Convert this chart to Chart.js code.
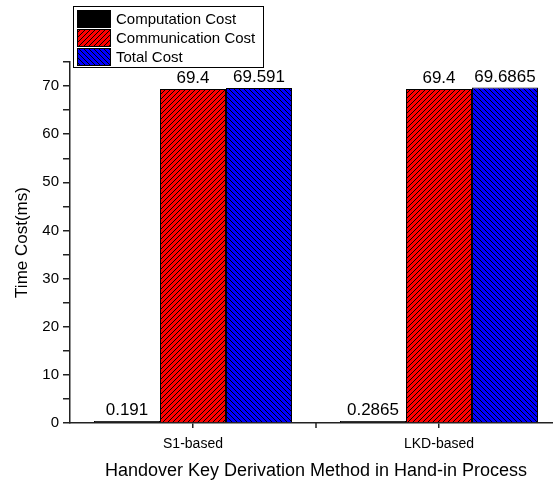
<!DOCTYPE html>
<html>
<head>
<meta charset="utf-8">
<script src="https://cdn.jsdelivr.net/npm/chart.js@4.4.1/dist/chart.umd.min.js"></script>
<style>
html, body { margin: 0; padding: 0; overflow: hidden; background: #fff; }
#wrap { width: 570px; height: 484px; }
</style>
</head>
<body>
<div id="wrap"><canvas id="costChart"></canvas></div>
<script>
const methods = ['S1-based', 'LKD-based'];
const computationCost = [0.191, 0.2865];
const communicationCost = [69.4, 69.4];
const totalCost = [69.591, 69.6865];
const seriesNames = ['Computation Cost', 'Communication Cost', 'Total Cost'];
const yMax = 75;

// motif hachuré
function hatch(bg, dir) {
    const s = 5;
    const c = document.createElement('canvas');
    c.width = s; c.height = s;
    const g = c.getContext('2d');
    g.fillStyle = bg;
    g.fillRect(0, 0, s, s);
    g.strokeStyle = '#000';
    g.lineWidth = 1;
    g.beginPath();
    if (dir === '/') {
        g.moveTo(-1, s + 1); g.lineTo(s + 1, -1);
        g.moveTo(-1, 1); g.lineTo(1, -1);
        g.moveTo(s - 1, s + 1); g.lineTo(s + 1, s - 1);
    } else {
        g.moveTo(-1, -1); g.lineTo(s + 1, s + 1);
        g.moveTo(s - 1, -1); g.lineTo(s + 1, 1);
        g.moveTo(-1, s - 1); g.lineTo(1, s + 1);
    }
    g.stroke();
    return g.createPattern(c, 'repeat');
}

const fills = ['#000000', hatch('#ff0000', '/'), hatch('#0000ff', '\\')];

Chart.defaults.font.family = "'Liberation Sans', Arial, sans-serif";
Chart.defaults.color = '#000';

// valeurs au-dessus des barres
const valueLabels = {
    id: 'valueLabels',
    afterDatasetsDraw(chart) {
        const ctx = chart.ctx;
        ctx.save();
        ctx.font = "17px 'Liberation Sans', Arial";
        ctx.fillStyle = '#000';
        ctx.textAlign = 'center';
        ctx.textBaseline = 'alphabetic';
        chart.data.datasets.forEach((ds, i) => {
            chart.getDatasetMeta(i).data.forEach((bar, j) => {
                ctx.fillText(String(ds.data[j]), bar.x, bar.y - 6);
            });
        });
        ctx.restore();
    }
};

// légende encadrée + tick intermédiaire
const boxLegend = {
    id: 'boxLegend',
    afterDraw(chart) {
        const ctx = chart.ctx;
        const x = chart.scales.x;
        ctx.save();
        // tick entre les groupes
        const mid = (x.getPixelForValue(0) + x.getPixelForValue(1)) / 2;
        ctx.strokeStyle = '#222';
        ctx.lineWidth = 1.5;
        ctx.beginPath();
        ctx.moveTo(Math.round(mid), x.top);
        ctx.lineTo(Math.round(mid), x.top + 5);
        ctx.stroke();

        ctx.strokeStyle = '#000';
        ctx.lineWidth = 1;
        ctx.fillStyle = '#fff';
        ctx.fillRect(73.5, 6.5, 190, 61);
        ctx.strokeRect(73.5, 6.5, 190, 61);
        ctx.font = "15px 'Liberation Sans', Arial";
        ctx.textBaseline = 'middle';
        ctx.textAlign = 'left';
        seriesNames.forEach((name, i) => {
            const y = 10.5 + i * 19;
            ctx.fillStyle = fills[i];
            ctx.fillRect(77.5, y, 33, 17);
            ctx.strokeRect(77.5, y, 33, 17);
            ctx.fillStyle = '#000';
            ctx.fillText(name, 116, y + 9);
        });
        ctx.restore();
    }
};

const ctx = document.getElementById('costChart').getContext('2d');
new Chart(ctx, {
    type: 'bar',
    data: {
        labels: methods,
        datasets: [computationCost, communicationCost, totalCost].map((d, i) => ({
            label: seriesNames[i],
            data: d,
            backgroundColor: fills[i],
            borderColor: '#000',
            borderWidth: 1,
            minBarLength: i === 0 ? 2 : 0,
            categoryPercentage: 0.805,
            barPercentage: 1
        }))
    },
    options: {
        responsive: true,
        maintainAspectRatio: false,
        animation: false,
        layout: { padding: { top: 62, right: 8, left: 0, bottom: 0 } },
        plugins: {
            legend: { display: false },
            tooltip: { enabled: false }
        },
        scales: {
            x: {
                afterFit(scale) { scale.height = 61; },
                grid: {
                    offset: false,
                    drawOnChartArea: false,
                    drawTicks: true,
                    tickLength: 5,
                    lineWidth: 1.5,
                    color: '#222'
                },
                border: { display: true, color: '#222', width: 1.5 },
                ticks: { font: { size: 14 }, padding: 8, color: '#000' },
                title: {
                    display: true,
                    text: 'Handover Key Derivation Method in Hand-in Process',
                    font: { size: 18 },
                    padding: { bottom: 2 },
                    color: '#000'
                }
            },
            y: {
                min: 0,
                max: yMax,
                afterFit(scale) { scale.width = 70; },
                grid: {
                    drawOnChartArea: false,
                    drawTicks: true,
                    tickLength: 7,
                    lineWidth: 1.5,
                    color: '#222'
                },
                border: { display: true, color: '#222', width: 1.5 },
                ticks: {
                    stepSize: 5,
                    font: { size: 15 },
                    padding: 4,
                    color: '#000',
                    callback: v => (v % 10 === 0 ? v : '')
                },
                title: {
                    display: true,
                    text: 'Time Cost(ms)',
                    font: { size: 17 },
                    padding: { top: 12 },
                    color: '#000'
                }
            }
        }
    },
    plugins: [valueLabels, boxLegend]
});
</script>
</body>
</html>
